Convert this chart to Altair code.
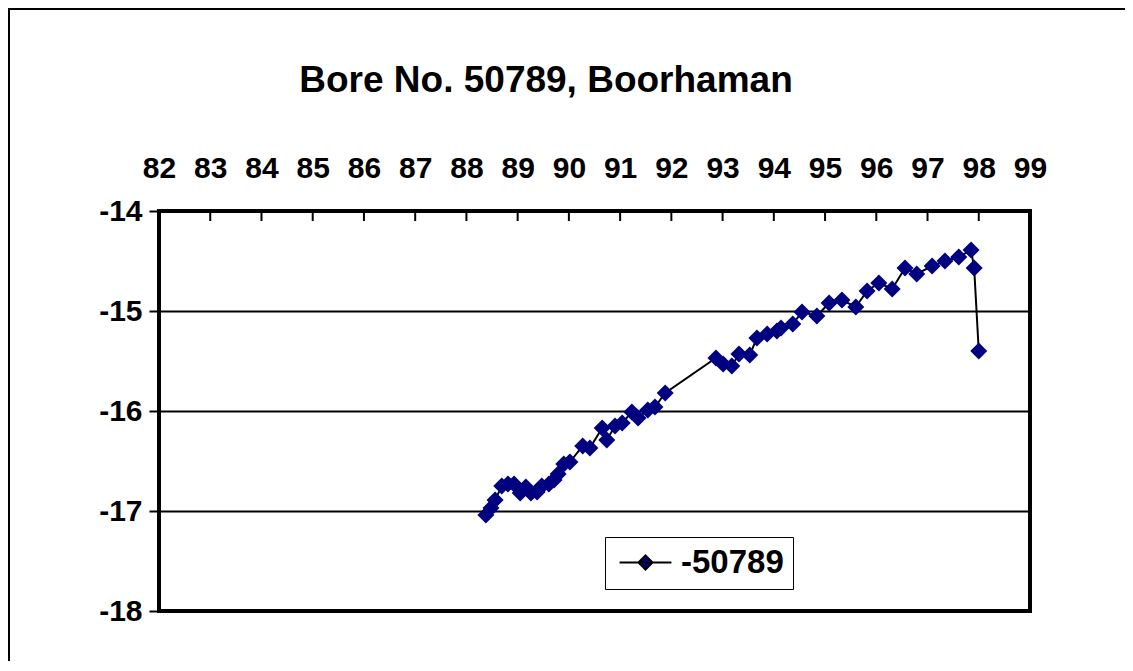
import altair as alt
import pandas as pd

title_text = "Bore No. 50789, Boorhaman"
series_name = "-50789"

years = [88.38, 88.48, 88.56, 88.69, 88.81, 88.93, 89.05, 89.16, 89.26, 89.38,
         89.47, 89.61, 89.71, 89.79, 89.90, 90.02, 90.27, 90.41, 90.65, 90.74,
         90.90, 91.04, 91.23, 91.35, 91.54, 91.68, 91.88, 92.87, 93.01, 93.18,
         93.32, 93.53, 93.67, 93.87, 94.06, 94.14, 94.37, 94.55, 94.84, 95.08,
         95.33, 95.60, 95.82, 96.05, 96.31, 96.56, 96.79, 97.09, 97.34, 97.61,
         97.85, 97.91, 98.00]
levels = [-17.04, -16.97, -16.89, -16.75, -16.73, -16.73, -16.82, -16.76, -16.82, -16.81,
          -16.75, -16.73, -16.69, -16.63, -16.53, -16.51, -16.35, -16.37, -16.17, -16.29,
          -16.15, -16.12, -16.01, -16.07, -15.99, -15.96, -15.82, -15.47, -15.53, -15.55,
          -15.43, -15.44, -15.27, -15.23, -15.20, -15.17, -15.13, -15.01, -15.05, -14.92,
          -14.89, -14.96, -14.80, -14.72, -14.78, -14.57, -14.63, -14.55, -14.50, -14.46,
          -14.39, -14.57, -15.40]

x_labels = list(range(82, 100))
inner_ticks = list(range(83, 99))
y_labels = [-14, -15, -16, -17, -18]

FONT = "Liberation Sans"

df = pd.DataFrame({"year": years, "level": levels})
df["series"] = series_name
df["order"] = list(range(len(df)))

tick_df = pd.DataFrame({"year": inner_ticks})
one_df = pd.DataFrame({"k": [0]})
title_df = pd.DataFrame({"t": [title_text]})

x_scale = alt.Scale(domain=[82, 99], nice=False, zero=False)
y_scale = alt.Scale(domain=[-18, -14], nice=False, zero=False)

x_enc = alt.X(
    "year:Q", scale=x_scale,
    axis=alt.Axis(orient="top", values=x_labels, ticks=False, domain=False, grid=False,
                  labelFontSize=30, labelFontWeight="bold", labelFont=FONT,
                  labelColor="black", labelPadding=28, labelFlush=False,
                  labelOverlap=False, title=None, labelExpr="'' + datum.value"),
)
y_enc = alt.Y(
    "level:Q", scale=y_scale,
    axis=alt.Axis(values=y_labels, tickSize=10, tickWidth=2, tickColor="black",
                  domain=False, grid=True, gridColor="black", gridWidth=2,
                  labelFontSize=30, labelFontWeight="bold", labelFont=FONT,
                  labelColor="black", labelPadding=7, labelFlush=False,
                  labelOverlap=False, title=None, labelExpr="'' + datum.value"),
)

frame_left = alt.Chart(one_df).mark_rule(color="black", strokeWidth=2).encode(
    x=alt.value(-150), y=alt.value(-202), y2=alt.value(450)
)
frame_top = alt.Chart(one_df).mark_rule(color="black", strokeWidth=2).encode(
    x=alt.value(-151), x2=alt.value(966), y=alt.value(-202)
)

title = alt.Chart(title_df).mark_text(
    fontSize=37, fontWeight="bold", font=FONT, color="black",
    align="center", baseline="alphabetic"
).encode(text="t:N", x=alt.value(387), y=alt.value(-119))

line = alt.Chart(df).mark_line(color="black", strokeWidth=2).encode(
    x=x_enc, y=y_enc, order="order:Q"
)

points = alt.Chart(df).mark_point(shape="diamond", filled=True, size=290, opacity=1).encode(
    x="year:Q", y="level:Q",
    color=alt.Color(
        "series:N", scale=alt.Scale(range=["#000080"]),
        legend=alt.Legend(
            title=None, orient="none", legendX=446, legendY=326,
            symbolType="M-1.73,0L1.73,0M0,-0.47L0.47,0L0,0.47L-0.47,0Z",
            symbolSize=900, symbolStrokeColor="black", symbolStrokeWidth=2,
            symbolFillColor="#000080", symbolOffset=15,
            labelFontSize=33, labelFontWeight="bold", labelFont=FONT, labelColor="black",
            strokeColor="black", padding=9, labelOffset=19, fillColor="white",
        ),
    ),
)

ticks = alt.Chart(tick_df).mark_rule(color="black", strokeWidth=2).encode(
    x=alt.X("year:Q", scale=x_scale), y=alt.value(0), y2=alt.value(10)
)

chart = alt.layer(frame_left, frame_top, title, line, points, ticks).properties(
    width=871, height=400,
    padding={"left": 151, "top": 203, "right": 95, "bottom": 50},
    autosize=alt.AutoSizeParams(type="none"),
).configure_view(stroke="black", strokeWidth=4)

chart.save("out.html", embed_options={"renderer": "svg", "actions": False})
